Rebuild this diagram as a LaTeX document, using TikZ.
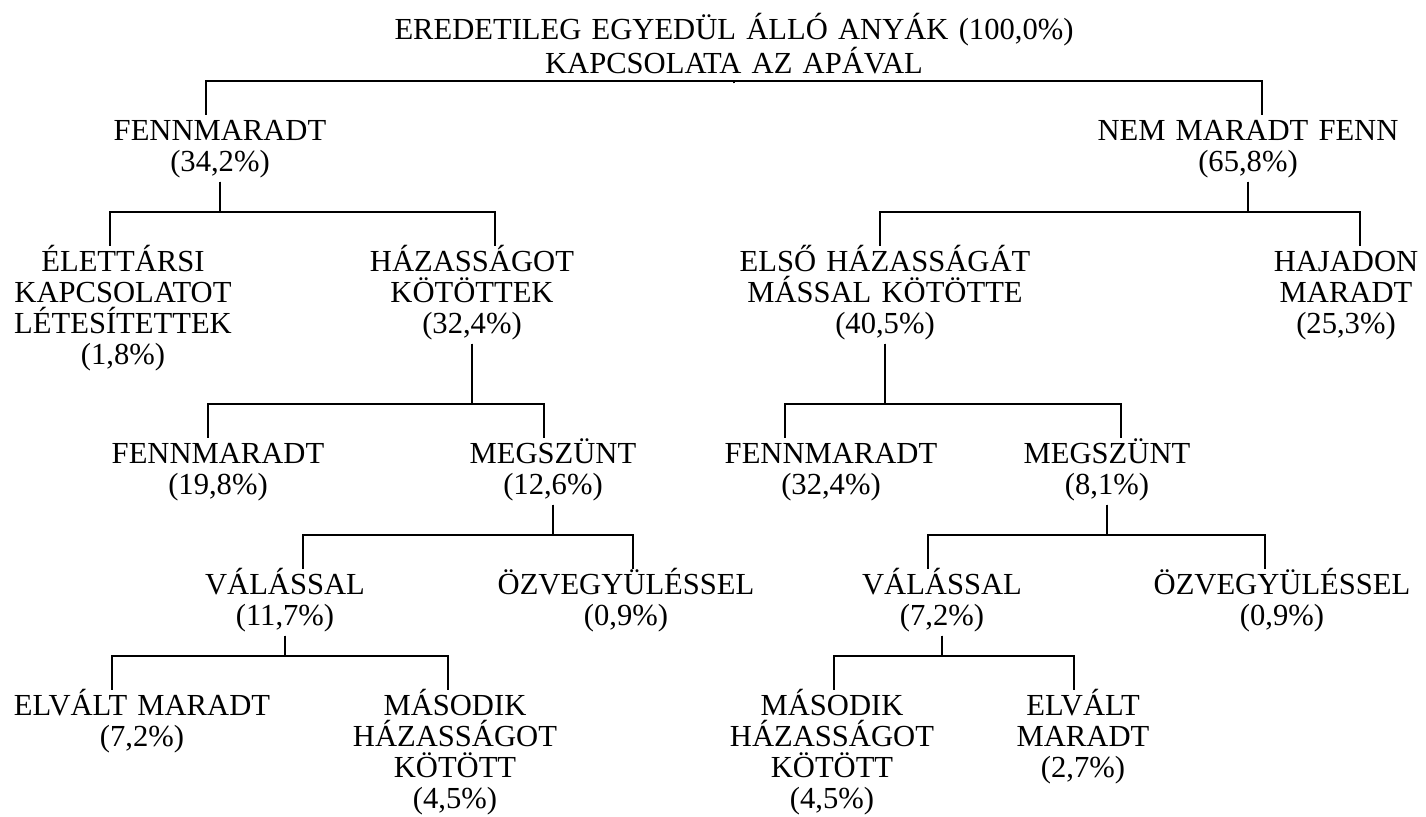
\documentclass[tikz,border=0pt]{standalone}
\usepackage{fontspec}
\setmainfont{Liberation Serif}

\begin{document}
\begin{tikzpicture}[line width=1pt,
        edge from parent path={([yshift=-\stemgap]\tikzparentnode.south) |- ([xshift=\dropx,yshift=15pt]\tikzchildnode.north) -- ([xshift=\dropx,yshift=-2pt]\tikzchildnode.north)}]
            \tikzset{dropx/.store in=\dropx, dropx=0pt, stemgap/.store in=\stemgap, stemgap=1.5pt}
            \tikzstyle{level 1}=[level distance=34.25pt, sibling distance=514pt, stemgap=4pt]
            \tikzstyle{level 2}=[level distance=48.63pt, sibling distance=202.5pt, stemgap=1.5pt]
            \tikzstyle{level 3}=[level distance=71.38pt, sibling distance=152.5pt]
            \tikzstyle{level 4}=[level distance=48.63pt, sibling distance=170pt]
            \tikzstyle{level 5}=[level distance=43.6pt, sibling distance=141pt]
            \tikzstyle{outcome} = [anchor=north, align=center, text width=350pt, inner sep=0pt, font=\fontsize{15.3}{15.5}\selectfont, execute at begin node={\rule{0pt}{14pt}}]

            \useasboundingbox (0,0) rectangle (713pt,-408pt);

            \node [outcome] (anya) at (367pt,-5pt) {EREDETILEG EGYEDÜL ÁLLÓ ANYÁK (100,0\%)\\KAPCSOLATA AZ APÁVAL}
            child[dropx=-7pt] {
                    node [outcome] (fenn) {FENNMARADT\\(34,2\%)}
                    child[xshift=52.75pt, dropx=-6.5pt] {
                            node [outcome] (elet) {ÉLETTÁRSI\\KAPCSOLATOT\\LÉTESÍTETTEK\\(1,8\%)}
                        }
                    child[xshift=24.75pt, dropx=11.5pt] {
                            node [outcome] (haz) {HÁZASSÁGOT\\KÖTÖTTEK\\(32,4\%)}
                            child[xshift=-50.75pt, dropx=-5pt] {
                                    node [outcome] (haz-fenn) {FENNMARADT\\(19,8\%)}
                                }
                            child[xshift=-35.75pt, dropx=-4.5pt] {
                                    node [outcome] (haz-megsz) {MEGSZÜNT\\(12,6\%)}
                                    child[xshift=-49pt, dropx=9pt] {
                                            node [outcome] (haz-val) {VÁLÁSSAL\\(11,7\%)}
                                            child[xshift=-1pt, dropx=-15pt] {
                                                    node [outcome] (haz-elvalt) {ELVÁLT MARADT\\(7,2\%)}
                                                }
                                            child[xshift=14.5pt, dropx=-3.5pt] {
                                                    node [outcome] (haz-masodik) {MÁSODIK\\HÁZASSÁGOT\\KÖTÖTT\\(4,5\%)}
                                                }
                                        }
                                    child[xshift=-48.5pt, dropx=3.5pt] {
                                            node [outcome] (haz-ozv) {ÖZVEGYÜLÉSSEL\\(0,9\%)}
                                        }
                                }
                        }
                }
            child[dropx=7pt] {
                    node [outcome] (nemfenn) {NEM MARADT FENN\\(65,8\%)}
                    child[xshift=-80.25pt, dropx=-2.5pt] {
                            node [outcome] (elso) {ELSŐ HÁZASSÁGÁT\\MÁSSAL KÖTÖTTE\\(40,5\%)}
                            child[xshift=49.25pt, dropx=-23pt] {
                                    node [outcome] (elso-fenn) {FENNMARADT\\(32,4\%)}
                                }
                            child[xshift=34.75pt, dropx=7pt] {
                                    node [outcome] (elso-megsz) {MEGSZÜNT\\(8,1\%)}
                                    child[xshift=2.5pt, dropx=-7pt] {
                                            node [outcome] (elso-val) {VÁLÁSSAL\\(7,2\%)}
                                            child[xshift=15.5pt, dropx=1pt] {
                                                    node [outcome] (elso-masodik) {MÁSODIK\\HÁZASSÁGOT\\KÖTÖTT\\(4,5\%)}
                                                }
                                            child[dropx=-4.5pt] {
                                                    node [outcome] (elso-elvalt) {ELVÁLT\\MARADT\\(2,7\%)}
                                                }
                                        }
                                    child[xshift=2.5pt, dropx=-8.5pt] {
                                            node [outcome] (elso-ozv) {ÖZVEGYÜLÉSSEL\\(0,9\%)}
                                        }
                                }
                        }
                    child[xshift=-52.25pt, dropx=7pt] {
                            node [outcome] (hajadon) {HAJADON\\MARADT\\(25,3\%)}
                        }
                };
        \end{tikzpicture}
\end{document}
